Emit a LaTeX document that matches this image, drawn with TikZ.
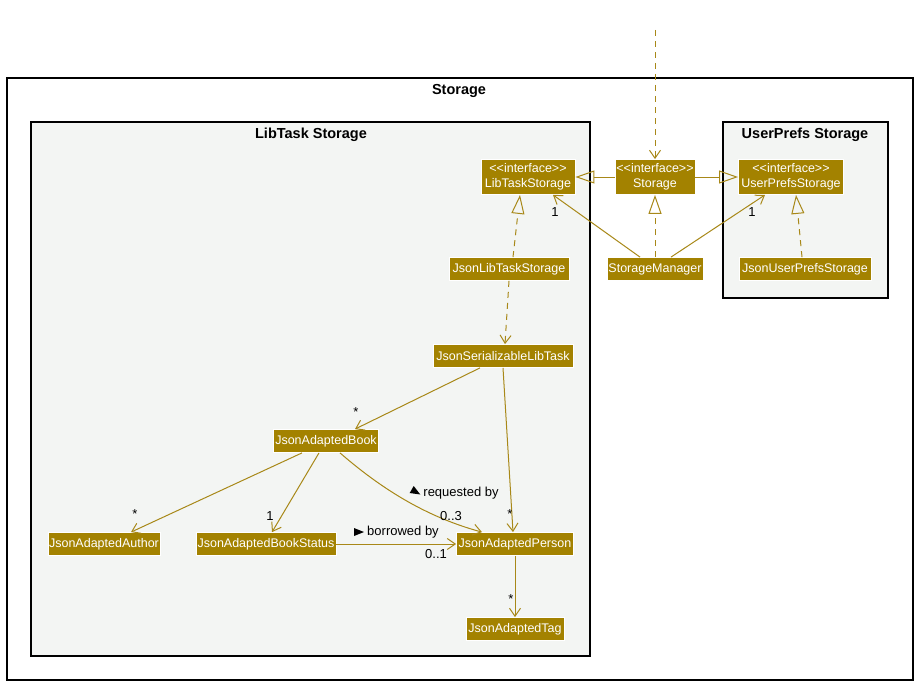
\documentclass[tikz,border=0pt]{standalone}
\usepackage{fontspec}
\setmainfont{Liberation Sans}
\usetikzlibrary{arrows.meta}
\definecolor{gold}{RGB}{163,130,0}
\definecolor{edgec}{RGB}{168,136,24}
\definecolor{pkg}{RGB}{243,245,243}
\begin{document}
\begin{tikzpicture}[x=1pt,y=-1pt,
  cls/.style={draw=white, fill=gold, text=white, font=\fontsize{12.5}{15}\selectfont, inner xsep=1pt, inner ysep=0pt, minimum height=23pt, align=center, line width=0.8pt},
  ifc/.style={cls, minimum height=35pt},
  lbl/.style={font=\fontsize{13}{15}\selectfont, text=black, inner sep=0pt},
  ttl/.style={font=\bfseries\fontsize{14.5}{16}\selectfont, inner sep=0pt},
  frame/.style={draw=black, line width=1.2pt},
  assoc/.style={draw=edgec, line width=1pt, -{Straight Barb[length=8pt,width=11pt]}},
  dep/.style={assoc, dash pattern=on 6pt off 5pt},
  gen/.style={draw=edgec, line width=1pt, -{Triangle[open,length=19pt,width=13pt]}},
  real/.style={gen, dash pattern=on 6pt off 5pt},
]
\useasboundingbox (0,0) rectangle (916,685);
% frames
\draw[frame, fill=white] (7,78) rectangle (913,680);
\node[ttl] (tstorage) at (459,91) {Storage};
\draw[frame, fill=pkg] (31,122) rectangle (590,656);
\node[ttl] (tlib) at (311,135) {LibTask Storage};
\draw[frame, fill=pkg] (723,122) rectangle (888,298);
\node[ttl] (tup) at (805,135) {UserPrefs Storage};

% nodes
\node[ifc, minimum width=94pt] (lts) at (528,177) {{<}{<}interface{>}{>}\\LibTaskStorage};
\node[ifc, minimum width=80pt] (sto) at (655,177) {{<}{<}interface{>}{>}\\Storage};
\node[ifc, minimum width=105pt] (ups) at (791,177) {{<}{<}interface{>}{>}\\UserPrefsStorage};
\node[cls, minimum width=120pt] (jlts) at (509,269) {JsonLibTaskStorage};
\node[cls, minimum width=96pt] (sm) at (655,269) {StorageManager};
\node[cls, minimum width=132pt] (jups) at (805,269) {JsonUserPrefsStorage};
\node[cls, minimum width=140pt] (jslt) at (503,356) {JsonSerializableLibTask};
\node[cls, minimum width=105pt] (jab) at (326,441) {JsonAdaptedBook};
\node[cls, minimum width=112pt] (jaa) at (104,544) {JsonAdaptedAuthor};
\node[cls, minimum width=140pt] (jabs) at (266,544) {JsonAdaptedBookStatus};
\node[cls, minimum width=117pt] (jap) at (515,544) {JsonAdaptedPerson};
\node[cls, minimum width=98pt] (jat) at (515,629) {JsonAdaptedTag};
\coordinate (top) at (655,30);

% edges
\draw[dep] (top) -- (sto.north);
\draw[gen] (sto.west) -- (lts.east);
\draw[gen] (sto.east) -- (ups.west);
\draw[real] (sm.north) -- (sto.south);
\draw[assoc] ([xshift=-15pt]sm.north) -- ([xshift=25pt]lts.south);
\node[lbl] (l1) at (555,212) {1};
\draw[assoc] ([xshift=16pt]sm.north) -- ([xshift=-26pt]ups.south);
\node[lbl] (l2) at (752,212) {1};
\draw[real] ([xshift=4pt]jlts.north) -- ([xshift=-8pt]lts.south);
\draw[real] ([xshift=-3pt]jups.north) -- ([xshift=5pt]ups.south);
\draw[dep] (jlts.south) -- ([xshift=2pt]jslt.north);
\draw[assoc] ([xshift=-23pt]jslt.south) -- ([xshift=29pt]jab.north);
\node[lbl] (l3) at (356,412) {*};
\draw[assoc] (jslt.south) -- ([xshift=-2pt]jap.north);
\node[lbl] (l4) at (510,514) {*};
\draw[assoc] ([xshift=-24pt]jab.south) -- ([xshift=27pt]jaa.north);
\node[lbl] (l5) at (135,514) {*};
\draw[assoc] ([xshift=-7pt]jab.south) -- ([xshift=6pt]jabs.north);
\node[lbl] (l6) at (270,516) {1};
\draw[assoc] ([xshift=14pt]jab.south) .. controls (385,492) and (430,518) .. ([xshift=-33pt]jap.north);
\fill[black] (420.3,494.5) -- (409.7,493.0) -- (413.7,486.0) -- cycle;
\node[lbl] (l7) at (461,493) {requested by};
\node[lbl] (l8) at (451,516) {0..3};
\draw[assoc] (jabs.east) -- (jap.west);
\fill[black] (354,528) -- (364,532) -- (354,536) -- cycle;
\node[lbl] (l9) at (403,532) {borrowed by};
\node[lbl] (l10) at (436,554) {0..1};
\draw[assoc] (jap.south) -- (jat.north);
\node[lbl] (l11) at (511,599) {*};
\end{tikzpicture}
\end{document}
